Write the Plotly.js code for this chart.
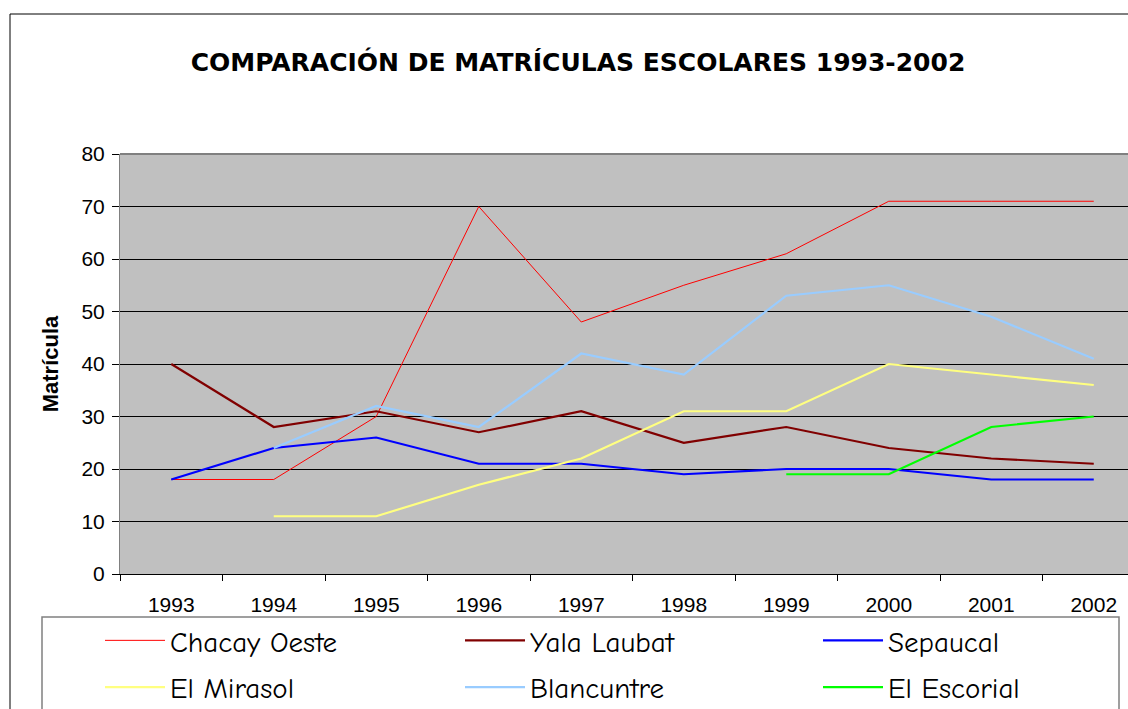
<!DOCTYPE html>
<html>
<head>
<meta charset="utf-8">
<script src="https://cdn.plot.ly/plotly-3.0.1.min.js"></script>
<style>
html,body{margin:0;padding:0;background:#fff;}
#chart{width:1128px;height:709px;}
</style>
</head>
<body>
<div id="chart"></div>
<script>
const years = ['1993','1994','1995','1996','1997','1998','1999','2000','2001','2002'];
const chacayOeste = [18, 18, 30, 70, 48, 55, 61, 71, 71, 71];
const yalaLaubat  = [40, 28, 31, 27, 31, 25, 28, 24, 22, 21];
const sepaucal    = [18, 24, 26, 21, 21, 19, 20, 20, 18, 18];
const elMirasol   = [null, 11, 11, 17, 22, 31, 31, 40, 38, 36];
const blancuntre  = [null, 24, 32, 28, 42, 38, 53, 55, 49, 41];
const elEscorial  = [null, null, null, null, null, null, 19, 19, 28, 30];

const seriesNames = ['Chacay Oeste','Yala Laubat','Sepaucal','El Mirasol','Blancuntre','El Escorial'];
const seriesData = [chacayOeste, yalaLaubat, sepaucal, elMirasol, blancuntre, elEscorial];
const seriesColors = ['#FF0000','#800000','#0000FF','#FFFF80','#99CCFF','#00FF00'];
const seriesWidths = [1, 2.2, 2.2, 2.2, 2.2, 2.2];
const seriesLegend = ['legend','legend2','legend3','legend','legend2','legend3'];

const comic = '"Comic Sans MS", "Comic Neue", "Noto Sans", "DejaVu Sans", sans-serif';
const titleFont = '"Comic Sans MS", "DejaVu Sans", sans-serif';
const arial = 'Arial, "Liberation Sans", sans-serif';

const traces = seriesNames.map((n, i) => ({
  type: 'scatter',
  mode: 'lines',
  name: n,
  x: years,
  y: seriesData[i],
  line: {color: seriesColors[i], width: seriesWidths[i]},
  connectgaps: false,
  legend: seriesLegend[i],
  legendgroup: 'g' + i
}));

const W = 1008, H = 420, L = 120, T = 154;
const px = v => (v - L) / W;
const py = v => (T + H - v) / H;

function legendAt(xPix) {
  return {
    orientation: 'v',
    x: px(xPix), xanchor: 'left',
    y: py(615), yanchor: 'top',
    bgcolor: 'rgba(0,0,0,0)',
    borderwidth: 0,
    font: {family: comic, size: 29, color: '#000'},
    itemwidth: 60,
    tracegroupgap: 6,
    traceorder: 'grouped'
  };
}

const layout = {
  width: 1128,
  height: 709,
  margin: {l: 120, r: 0, t: 154, b: 135, pad: 0, autoexpand: false},
  paper_bgcolor: '#FFFFFF',
  plot_bgcolor: '#C0C0C0',
  showlegend: true,
  title: {
    text: '<b>COMPARACIÓN DE MATRÍCULAS ESCOLARES 1993-2002</b>',
    x: 578 / 1128, xref: 'container', xanchor: 'center',
    y: 1 - 62 / 709, yref: 'container', yanchor: 'middle',
    font: {family: titleFont, size: 25, color: '#000'}
  },
  xaxis: {
    type: 'category',
    range: [-0.5, 9.334],
    tickson: 'boundaries',
    ticks: 'outside',
    ticklen: 6,
    tickcolor: '#000',
    ticklabelstandoff: 12,
    showgrid: false,
    showline: true,
    linecolor: '#000',
    linewidth: 1,
    tickfont: {family: arial, size: 21, color: '#000'},
    fixedrange: true
  },
  yaxis: {
    range: [0, 80],
    dtick: 10,
    ticks: 'outside',
    ticklen: 7,
    tickcolor: '#000',
    ticklabelstandoff: 3,
    showgrid: true,
    gridcolor: '#000000',
    gridwidth: 1,
    zeroline: false,
    showline: true,
    linecolor: '#808080',
    linewidth: 1,
    tickfont: {family: arial, size: 21, color: '#000'},
    title: {text: '<b>Matrícula</b>', font: {family: arial, size: 22, color: '#000'}, standoff: 16},
    fixedrange: true
  },
  legend: legendAt(100),
  legend2: legendAt(460),
  legend3: legendAt(818),
  shapes: [
    {type: 'rect', xref: 'paper', yref: 'paper',
     x0: px(10), x1: 1.2, y0: -0.6, y1: py(14),
     line: {color: '#000', width: 1}, fillcolor: 'rgba(0,0,0,0)', layer: 'below'},
    {type: 'rect', xref: 'paper', yref: 'paper',
     x0: px(42), x1: px(1119), y0: -0.6, y1: py(617),
     line: {color: '#808080', width: 1.5}, fillcolor: 'rgba(0,0,0,0)', layer: 'below'},
    {type: 'line', xref: 'paper', yref: 'paper', x0: 0, x1: 1, y0: 1, y1: 1,
     line: {color: '#808080', width: 2}}
  ]
};

Plotly.newPlot('chart', traces, layout, {displayModeBar: false, staticPlot: true});
</script>
</body>
</html>
